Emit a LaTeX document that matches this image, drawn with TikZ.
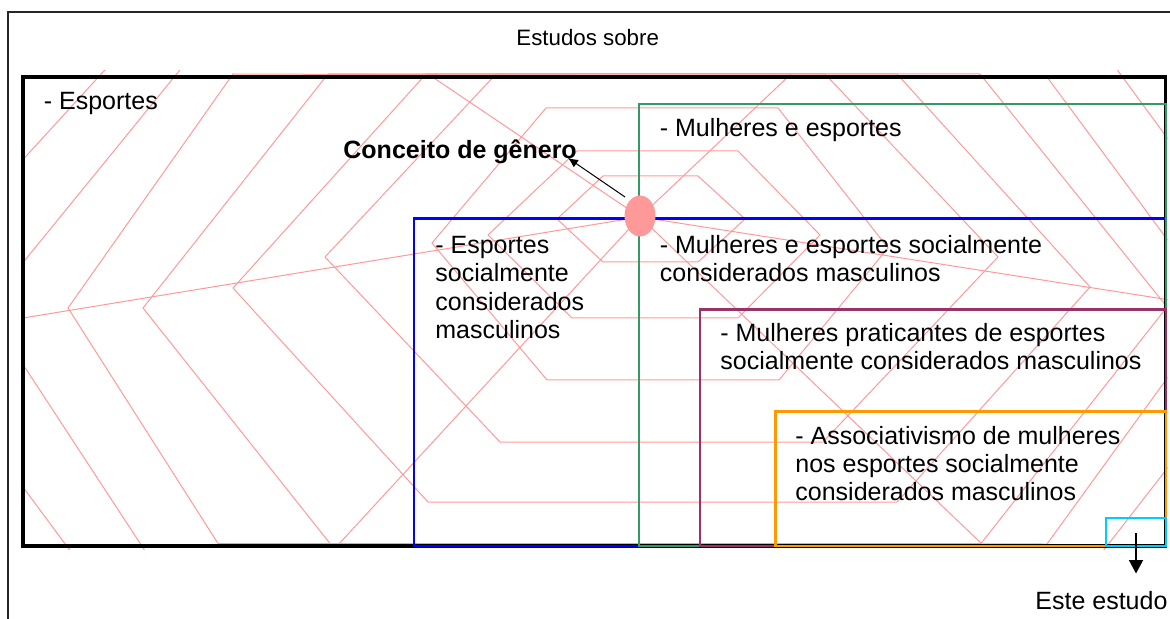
\documentclass[tikz,border=0pt]{standalone}
\usepackage{fontspec}
\setmainfont{Liberation Sans}
\usetikzlibrary{arrows.meta,shapes.geometric}
\definecolor{webpink}{RGB}{255,153,153}
\definecolor{boxgreen}{RGB}{51,153,102}
\definecolor{boxblue}{RGB}{0,0,255}
\definecolor{boxplum}{RGB}{153,51,102}
\definecolor{boxorange}{RGB}{255,153,0}
\definecolor{boxcyan}{RGB}{0,204,255}
\begin{document}
\begin{tikzpicture}[x=0.5pt,y=-0.5pt,
  web/.style={draw=webpink,line width=0.5pt,line join=miter},
  txt/.style={anchor=base west,inner sep=0pt,font=\fontsize{12.5}{14.15}\selectfont},
  frame/.style={line width=0.7pt,draw=black!85},
]
\useasboundingbox (0,0) rectangle (1170,619);
% outer frame
\draw[frame] (8,619) -- (8,12) -- (1170,12);
\node[anchor=base west,inner sep=0pt,font=\fontsize{11.15}{13}\selectfont] (title) at (516,46) {Estudos sobre};

% web
\begin{scope}
\clip (21,71) rectangle (1167.5,549);
\draw[web] (603,176) -- (698,176) -- (745,219) -- (698,262) -- (603,262) -- (557,219) -- cycle;
\draw[web] (577,151) -- (738,151) -- (820,235) -- (738,318) -- (572,318) -- (488,235) -- cycle;
\draw[web] (546,108) -- (778,108) -- (888,248) -- (779,380) -- (547,380) -- (432,243) -- cycle;
\draw[web] (496,74) -- (825,74) -- (998,257) -- (823,442) -- (500,442) -- (325,257) -- cycle;
\draw[web] (426,74) -- (897,74) -- (1090,287) -- (897,502) -- (428,502) -- (233,288) -- cycle;
\draw[web] (328,74) -- (980,74) -- (1167,307) -- (981,543.5) -- (330,543.5) -- (143,308) -- cycle;
\draw[web] (233,74) -- (1047,77) -- (1218,308) -- (1047,544) -- (218,543.5) -- (68,308) -- cycle;
\draw[web] (188,60) -- (1110,60) -- (1292,308) -- (1096,560) -- (151,560) -- (-14,308) -- cycle;
\draw[web] (114,60) -- (1190,60) -- (1400,306) -- (1180,560) -- (77,560) -- (-111,306) -- cycle;
\draw[web] (640,217) -- (20,318.5);
\draw[web] (640,217) -- (1170,300);
\draw[web] (640,217) -- (428,74);
\draw[web] (640,217) -- (791,74);
\draw[web] (640,217) -- (983,545);
\draw[web] (640,217) -- (338,545);
\end{scope}

% boxes
\draw[line width=1.75pt,black] (23,77) rectangle (1165.5,546);
\draw[line width=1.4pt,boxblue] (414,218.5) rectangle (1166,546);
\draw[line width=1pt,boxgreen] (639,104.5) rectangle (1166,546);
\draw[line width=1.1pt,boxplum] (700,309.5) rectangle (1166,546);
\draw[line width=1.2pt,boxorange] (775.5,411.5) rectangle (1166,546);
\draw[line width=1pt,boxcyan] (1106,517.5) rectangle (1166,545.5);

% centre ellipse
\node[ellipse,fill=webpink,draw=none,minimum width=15.5pt,minimum height=20.5pt,inner sep=0pt] (gen) at (640,216) {};

% texts
\node[txt] (esp) at (43.5,110) {- Esportes};
\node[txt,font=\fontsize{12.5}{14.15}\selectfont\bfseries] (conc) at (343,159) {Conceito de gênero};
\node[txt] (mulh) at (659.5,137) {- Mulheres e esportes};
\node[txt] (espsoc) at (435,253.5) {\vtop{\hbox{- Esportes}\hbox{socialmente}\hbox{considerados}\hbox{masculinos}}};
\node[txt] (mulhsoc) at (659.5,253.5) {\vtop{\hbox{- Mulheres e esportes socialmente}\hbox{considerados masculinos}}};
\node[txt] (prat) at (720,341.5) {\vtop{\hbox{- Mulheres praticantes de esportes}\hbox{socialmente considerados masculinos}}};
\node[txt] (assoc) at (795,444) {\vtop{\hbox{- Associativismo de mulheres}\hbox{nos esportes socialmente}\hbox{considerados masculinos}}};
\node[txt] (este) at (1035,609) {Este estudo};

% arrows
\coordinate (g1) at (625,197);
\coordinate (g2) at (568,158);
\draw[line width=0.5pt,-{Latex[length=5pt,width=4.5pt]}] (g1) -- (g2);
\coordinate (e1) at (1136,533);
\coordinate (e2) at (1136,573.5);
\draw[line width=0.75pt,-{Triangle[length=6.7pt,width=7pt]}] (e1) -- (e2);
\end{tikzpicture}
\end{document}
